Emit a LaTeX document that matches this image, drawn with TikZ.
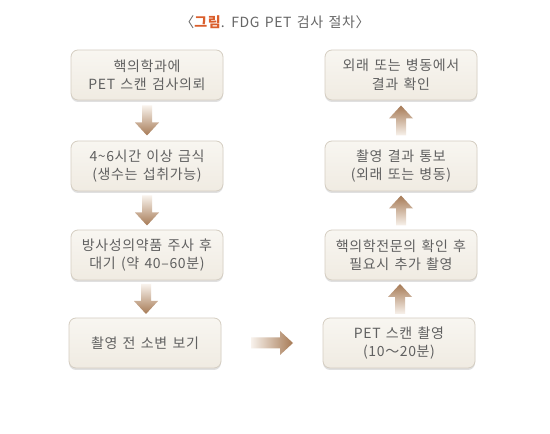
\documentclass[tikz,border=0pt]{standalone}
\usepackage{fontspec}
\setmainfont{Noto Sans CJK KR}[LetterSpace=4.5, WordSpace=1.4]
\usetikzlibrary{calc,shadows}
\definecolor{arrdark}{HTML}{A67A55}
\definecolor{arrlight}{HTML}{F8F2EC}
\definecolor{boxline}{HTML}{D5CEC2}
\definecolor{boxtop}{HTML}{F8F6F1}
\definecolor{boxbot}{HTML}{F0EBE2}
\definecolor{txt}{HTML}{606060}
\definecolor{ttlgray}{HTML}{666666}
\definecolor{ttl}{HTML}{DA5E2C}
\newcommand\fatdn[2]{%
 \shade[top color=arrlight, bottom color=arrdark]
 let \p1=($(#1.south)!0.5!(#2.north)$) in
 (\x1-5bp,\y1+15bp) -- (\x1-5bp,\y1-2bp) -- (\x1-12bp,\y1-2bp) -- (\x1,\y1-15bp) -- (\x1+12bp,\y1-2bp) -- (\x1+5bp,\y1-2bp) -- (\x1+5bp,\y1+15bp) -- cycle;}
\newcommand\fatup[2]{%
 \shade[bottom color=arrlight, top color=arrdark]
 let \p1=($(#1.north)!0.5!(#2.south)$) in
 (\x1-5bp,\y1-15bp) -- (\x1-5bp,\y1+2bp) -- (\x1-12bp,\y1+2bp) -- (\x1,\y1+15bp) -- (\x1+12bp,\y1+2bp) -- (\x1+5bp,\y1+2bp) -- (\x1+5bp,\y1-15bp) -- cycle;}
\newcommand\fatrt[2]{%
 \shade[left color=arrlight, right color=arrdark]
 let \p1=($(#1.east)!0.5!(#2.west)$) in
 (\x1-21bp,\y1-5.5bp) -- (\x1+8bp,\y1-5.5bp) -- (\x1+8bp,\y1-12bp) -- (\x1+21bp,\y1) -- (\x1+8bp,\y1+12bp) -- (\x1+8bp,\y1+5.5bp) -- (\x1-21bp,\y1+5.5bp) -- cycle;}
\tikzset{
 box/.style={draw=boxline, line width=0.8bp, rounded corners=7bp,
   top color=boxtop, bottom color=boxbot,
   minimum width=152bp, minimum height=50bp, align=center, text=txt,
   font=\fontsize{14bp}{18.5bp}\selectfont,
   drop shadow={shadow xshift=0bp, shadow yshift=-2bp, opacity=0.12, fill=black}},
}
\begin{document}
\begin{tikzpicture}[x=1bp,y=1bp]
\useasboundingbox[fill=white] (0,0) rectangle (550,434);
\node[font=\fontsize{14bp}{16bp}\selectfont, text=ttlgray] (title) at (275,412) {〈{\color{ttl}\bfseries 그림}. FDG PET 검사 절차〉};
\node[box] (l1) at (147,359) {핵의학과에\\PET 스캔 검사의뢰};
\node[box] (l2) at (147,268) {4\textasciitilde6시간 이상 금식\\(생수는 섭취가능)};
\node[box] (l3) at (147,179) {방사성의약품 주사 후\\대기 (약 40–60분)};
\node[box] (l4) at (145,91) {촬영 전 소변 보기};
\node[box] (r1) at (401,359) {외래 또는 병동에서\\결과 확인};
\node[box] (r2) at (401,268) {촬영 결과 통보\\(외래 또는 병동)};
\node[box] (r3) at (401,179) {핵의학전문의 확인 후\\필요시 추가 촬영};
\node[box] (r4) at (399,91) {PET 스캔 촬영\\(10～20분)};
\fatdn{l1}{l2}
\fatdn{l2}{l3}
\fatdn{l3}{l4}
\fatrt{l4}{r4}
\fatup{r4}{r3}
\fatup{r3}{r2}
\fatup{r2}{r1}
\end{tikzpicture}
\end{document}
